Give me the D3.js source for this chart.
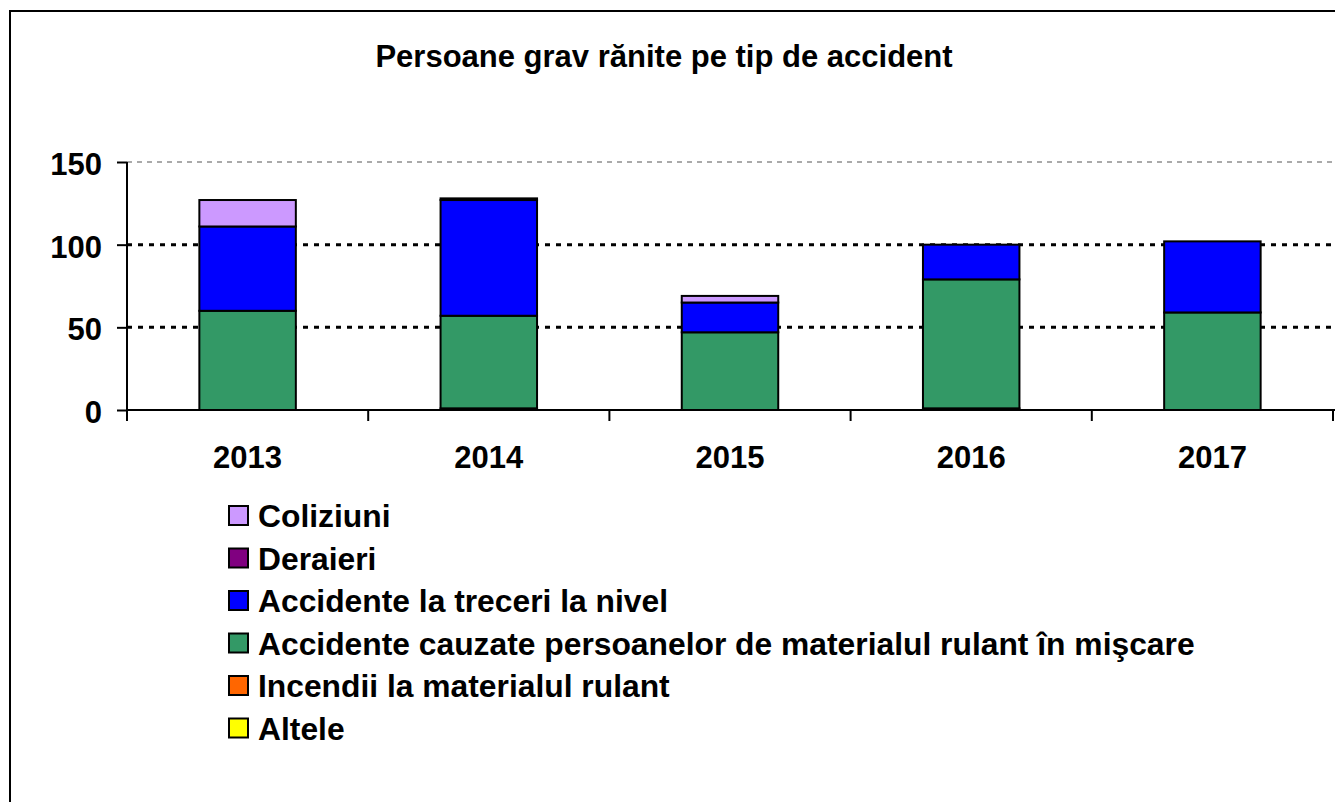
<!DOCTYPE html>
<html>
<head>
<meta charset="utf-8">
<script src="https://cdn.jsdelivr.net/npm/d3@7"></script>
<style>
  html, body { margin: 0; padding: 0; background: #fff; }
  svg { display: block; font-family: "Liberation Sans", Arial, sans-serif; font-weight: bold; }
</style>
</head>
<body>
<div id="chart"></div>
<script>
// data
const years = ["2013", "2014", "2015", "2016", "2017"];
const coliziuni = [16, 0, 4, 0, 0];
const deraieri = [0, 1, 0, 0, 0];
const treceri = [51, 70, 18, 21, 43];
const cauzate = [60, 56, 47, 78, 59];
const incendii = [0, 0, 0, 0, 0];
const altele = [0, 1, 0, 1, 0];
const yTicks = [0, 50, 100, 150];

// legend order (top first), stacking goes the other way
const seriesNames = [
  "Coliziuni",
  "Deraieri",
  "Accidente la treceri la nivel",
  "Accidente cauzate persoanelor de materialul rulant în mişcare",
  "Incendii la materialul rulant",
  "Altele"
];
const seriesValues = [coliziuni, deraieri, treceri, cauzate, incendii, altele];
const seriesColors = ["#CC99FF", "#800080", "#0000FF", "#339966", "#FF6600", "#FFFF00"];

const width = 1335;
const height = 802;
const marginLeft = 127;
const plotRight = 1333;
const plotTop = 162;
const plotBottom = 410;
const fontSize = "31px";

const table = years.map((yr, i) => {
  const row = { year: yr };
  seriesNames.forEach((s, j) => (row[s] = seriesValues[j][i]));
  return row;
});

const stackKeys = seriesNames.slice().reverse();
const stacked = d3.stack().keys(stackKeys)(table);
const color = d3.scaleOrdinal().domain(seriesNames).range(seriesColors);

const x = d3.scaleBand()
  .domain(years)
  .range([marginLeft, plotRight])
  .paddingInner(0.6)
  .paddingOuter(0.3);

const y = d3.scaleLinear()
  .domain([0, 150])
  .range([plotBottom, plotTop]);

const svg = d3.select("#chart").append("svg")
  .attr("width", width)
  .attr("height", height);

// outer frame (right & bottom edges fall outside the picture)
svg.append("rect")
  .attr("x", 10).attr("y", 11)
  .attr("width", 1340).attr("height", 820)
  .attr("fill", "none")
  .attr("stroke", "#000")
  .attr("stroke-width", 2);

svg.append("text")
  .attr("x", 664).attr("y", 67)
  .attr("text-anchor", "middle")
  .style("font-size", fontSize)
  .text("Persoane grav rănite pe tip de accident");

// gridlines
svg.append("g").selectAll("line")
  .data(yTicks.filter((d) => d > 0))
  .join("line")
  .attr("x1", marginLeft).attr("x2", plotRight)
  .attr("y1", (d) => y(d)).attr("y2", (d) => y(d))
  .attr("stroke", (d) => (d === 150 ? "#555" : "#000"))
  .attr("stroke-width", (d) => (d === 150 ? 1 : 3))
  .attr("stroke-dasharray", (d) => (d === 150 ? "5,5" : "5,6"));

// bars
svg.append("g").selectAll("g")
  .data(stacked)
  .join("g")
  .attr("fill", (d) => color(d.key))
  .selectAll("rect")
  .data((d) => d.filter((p) => p[1] - p[0] > 0))
  .join("rect")
  .attr("x", (d) => x(d.data.year))
  .attr("y", (d) => y(d[1]))
  .attr("width", x.bandwidth())
  .attr("height", (d) => y(d[0]) - y(d[1]))
  .attr("stroke", "#000")
  .attr("stroke-width", 2);

// y axis
const yAxis = svg.append("g")
  .attr("transform", `translate(${marginLeft},0)`)
  .call(d3.axisLeft(y).tickValues(yTicks).tickSize(10).tickPadding(15));
yAxis.select(".domain").attr("stroke-width", 2).attr("d", `M0,${plotTop}V${plotBottom}`);
yAxis.selectAll(".tick line").attr("stroke-width", 2);
yAxis.selectAll(".tick text")
  .attr("dy", "0.4em")
  .style("font-size", fontSize)
  .style("font-family", "'Liberation Sans', Arial, sans-serif")
  .style("font-weight", "bold");

// x axis: labels centred on bars, ticks on band edges
const xAxis = svg.append("g")
  .attr("transform", `translate(0,${plotBottom})`)
  .call(d3.axisBottom(x).tickSize(0).tickPadding(58));
xAxis.select(".domain").attr("stroke-width", 2).attr("d", `M${marginLeft},0H${width}`);
xAxis.selectAll(".tick text")
  .attr("dy", 0)
  .style("font-size", fontSize)
  .style("font-family", "'Liberation Sans', Arial, sans-serif")
  .style("font-weight", "bold");
xAxis.selectAll(".edge")
  .data(d3.range(years.length + 1))
  .join("line")
  .attr("class", "edge")
  .attr("x1", (i) => marginLeft + i * x.step())
  .attr("x2", (i) => marginLeft + i * x.step())
  .attr("y1", 0).attr("y2", 11)
  .attr("stroke", "#000")
  .attr("stroke-width", 2);

// legend
const legend = svg.append("g").selectAll("g")
  .data(seriesNames)
  .join("g")
  .attr("transform", (d, i) => `translate(228,${516 + i * 42.5})`);
legend.append("rect")
  .attr("x", 1).attr("y", -10)
  .attr("width", 19).attr("height", 19)
  .attr("fill", (d) => color(d))
  .attr("stroke", "#000")
  .attr("stroke-width", 2);
legend.append("text")
  .attr("x", 30).attr("y", 11)
  .style("font-size", "31.8px")
  .text((d) => d);
</script>
</body>
</html>
